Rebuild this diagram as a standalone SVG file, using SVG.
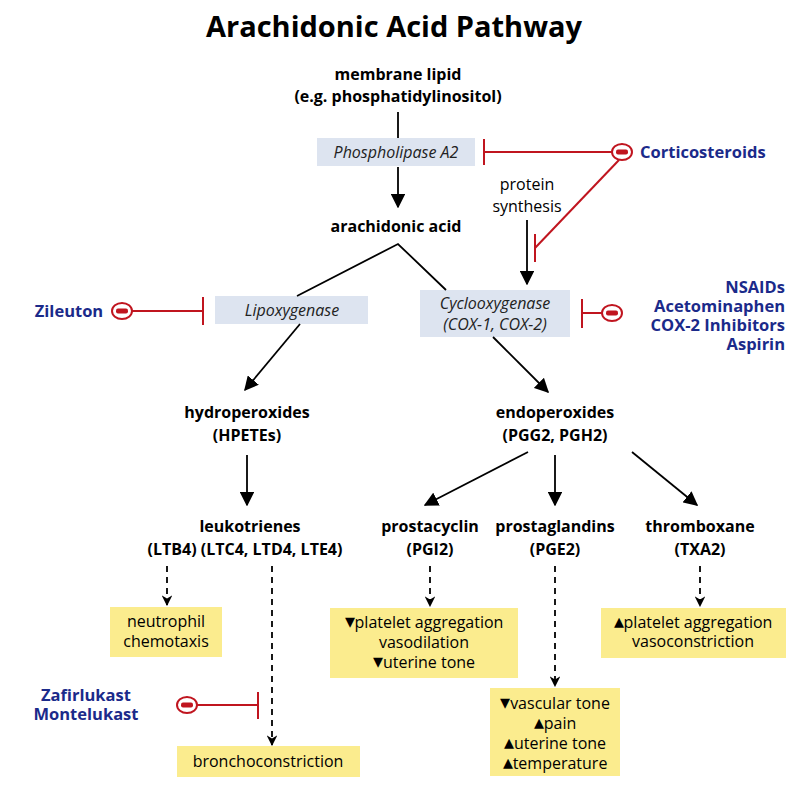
<svg xmlns="http://www.w3.org/2000/svg" width="800" height="800" viewBox="0 0 800 800">
<defs>
<marker id="ah" viewBox="0 0 10 10" refX="9" refY="5" markerWidth="8" markerHeight="8" orient="auto"><path d="M0,0 L10,5 L0,10 z" fill="#000"/></marker>
<marker id="ahs" viewBox="0 0 10 10" refX="9" refY="5" markerWidth="6" markerHeight="6" orient="auto"><path d="M0,0 L10,5 L0,10 L3,5 z" fill="#000"/></marker>
</defs>
<style>
text{font-family:"Open Sans","Liberation Sans",sans-serif;text-anchor:middle;fill:#000}
.t{font-size:29px;font-weight:bold}
.b{font-size:16px;font-weight:bold}
.e{font-size:16px;font-style:italic;fill:#222}
.n{font-size:16px}
.d{font-size:16.5px;font-weight:bold;fill:#1b2a8a}
.tri{font-size:20px}
.blue{fill:#dde4f0}
.y{fill:#fbec8e}
.ln{stroke:#000;stroke-width:1.8;fill:none}
.ar{stroke:#000;stroke-width:1.8;fill:none;marker-end:url(#ah)}
.da{stroke:#000;stroke-width:1.8;fill:none;stroke-dasharray:6,5;marker-end:url(#ahs)}
.r{stroke:#c0151f;stroke-width:2;fill:none}
.rc{stroke:#c0151f;stroke-width:2;fill:#fff}
.rm{fill:#c0151f}
</style>
<rect width="800" height="800" fill="#fff"/>
<text class="t" x="394" y="37">Arachidonic Acid Pathway</text>

<g id="membrane"><text class="b" x="398" y="80">membrane lipid</text><text class="b" x="398" y="102">(e.g. phosphatidylinositol)</text></g>
<g id="pla2"><rect class="blue" x="317" y="138" width="158" height="28"/><text class="e" x="396" y="158">Phospholipase A2</text></g>
<g id="aa"><text class="b" x="396" y="232">arachidonic acid</text></g>
<g id="protein"><text class="n" x="527" y="190">protein</text><text class="n" x="527" y="212">synthesis</text></g>
<g id="lox"><rect class="blue" x="215" y="296" width="153" height="28"/><text class="e" x="292" y="316">Lipoxygenase</text></g>
<g id="cox"><rect class="blue" x="420" y="290" width="150" height="47"/><text class="e" x="495" y="309">Cyclooxygenase</text><text class="e" x="495" y="330">(COX-1, COX-2)</text></g>
<g id="hpete"><text class="b" x="247" y="418">hydroperoxides</text><text class="b" x="247" y="441">(HPETEs)</text></g>
<g id="endo"><text class="b" x="555" y="418">endoperoxides</text><text class="b" x="555" y="441">(PGG2, PGH2)</text></g>
<g id="leuko"><text class="b" x="250" y="532">leukotrienes</text><text class="b" x="245" y="555">(LTB4) (LTC4, LTD4, LTE4)</text></g>
<g id="pgi"><text class="b" x="430" y="532">prostacyclin</text><text class="b" x="430" y="555">(PGI2)</text></g>
<g id="pge"><text class="b" x="555" y="532">prostaglandins</text><text class="b" x="555" y="555">(PGE2)</text></g>
<g id="txa"><text class="b" x="700" y="532">thromboxane</text><text class="b" x="700" y="555">(TXA2)</text></g>

<g id="neutro"><rect class="y" x="110" y="607" width="112" height="50"/><text class="n" x="166" y="627">neutrophil</text><text class="n" x="166" y="647">chemotaxis</text></g>
<g id="broncho"><rect class="y" x="177" y="746" width="183" height="31"/><text class="n" x="268" y="767">bronchoconstriction</text></g>
<g id="pgieff"><rect class="y" x="330" y="608" width="188" height="70"/><text class="n" x="424" y="628"><tspan class="tri">▾</tspan>platelet aggregation</text><text class="n" x="424" y="648">vasodilation</text><text class="n" x="424" y="668"><tspan class="tri">▾</tspan>uterine tone</text></g>
<g id="pgeeff"><rect class="y" x="490" y="688" width="130" height="88"/><text class="n" x="555" y="709"><tspan class="tri">▾</tspan>vascular tone</text><text class="n" x="555" y="729"><tspan class="tri">▴</tspan>pain</text><text class="n" x="555" y="749"><tspan class="tri">▴</tspan>uterine tone</text><text class="n" x="555" y="769"><tspan class="tri">▴</tspan>temperature</text></g>
<g id="txaeff"><rect class="y" x="601" y="608" width="185" height="50"/><text class="n" x="693" y="628"><tspan class="tri">▴</tspan>platelet aggregation</text><text class="n" x="693" y="647">vasoconstriction</text></g>

<g id="cortico"><text class="d" x="640" y="158" style="text-anchor:start">Corticosteroids</text></g>
<g id="nsaids"><text class="d" x="785" y="293" style="text-anchor:end">NSAIDs</text><text class="d" x="785" y="312" style="text-anchor:end">Acetominaphen</text><text class="d" x="785" y="331" style="text-anchor:end">COX-2 Inhibitors</text><text class="d" x="785" y="350" style="text-anchor:end">Aspirin</text></g>
<g id="zileuton"><text class="d" x="69" y="317">Zileuton</text></g>
<g id="zafir"><text class="d" x="86" y="701">Zafirlukast</text><text class="d" x="86" y="720">Montelukast</text></g>

<g id="connectors">
<line class="ln" x1="398" y1="112" x2="398" y2="138"/>
<line class="ar" x1="398" y1="167" x2="398" y2="207"/>
<polyline class="ln" points="297,296 398,244 446,290"/>
<line class="ar" x1="527" y1="220" x2="527" y2="284"/>
<line class="ar" x1="300" y1="324" x2="245" y2="390"/>
<line class="ar" x1="493" y1="337" x2="548" y2="392"/>
<line class="ar" x1="247" y1="455" x2="247" y2="505"/>
<line class="ar" x1="528" y1="452" x2="425" y2="505"/>
<line class="ar" x1="555" y1="455" x2="555" y2="505"/>
<line class="ar" x1="632" y1="452" x2="697" y2="505"/>
<line class="da" x1="167" y1="566" x2="167" y2="605"/>
<line class="da" x1="272" y1="566" x2="272" y2="745"/>
<line class="da" x1="430" y1="566" x2="430" y2="606"/>
<line class="da" x1="555" y1="566" x2="555" y2="686"/>
<line class="da" x1="700" y1="566" x2="700" y2="606"/>
<line class="r" x1="612" y1="152" x2="484" y2="152"/><line class="r" x1="484" y1="139" x2="484" y2="165"/>
<line class="r" x1="619" y1="160" x2="535" y2="248"/><line class="r" x1="535" y1="234" x2="535" y2="262"/>
<line class="r" x1="602" y1="313" x2="582" y2="313"/><line class="r" x1="582" y1="299" x2="582" y2="328"/>
<line class="r" x1="132" y1="311" x2="203" y2="311"/><line class="r" x1="203" y1="297" x2="203" y2="325"/>
<line class="r" x1="197" y1="705" x2="258" y2="705"/><line class="r" x1="258" y1="692" x2="258" y2="719"/>
<g><ellipse class="rc" cx="622" cy="152" rx="10" ry="8"/><rect class="rm" x="616" y="149.5" width="12" height="5" rx="2"/></g>
<g><ellipse class="rc" cx="612" cy="313" rx="10" ry="8"/><rect class="rm" x="606" y="310.5" width="12" height="5" rx="2"/></g>
<g><ellipse class="rc" cx="122" cy="311" rx="10" ry="8"/><rect class="rm" x="116" y="308.5" width="12" height="5" rx="2"/></g>
<g><ellipse class="rc" cx="187" cy="705" rx="10" ry="8"/><rect class="rm" x="181" y="702.5" width="12" height="5" rx="2"/></g>
</g>
</svg>
